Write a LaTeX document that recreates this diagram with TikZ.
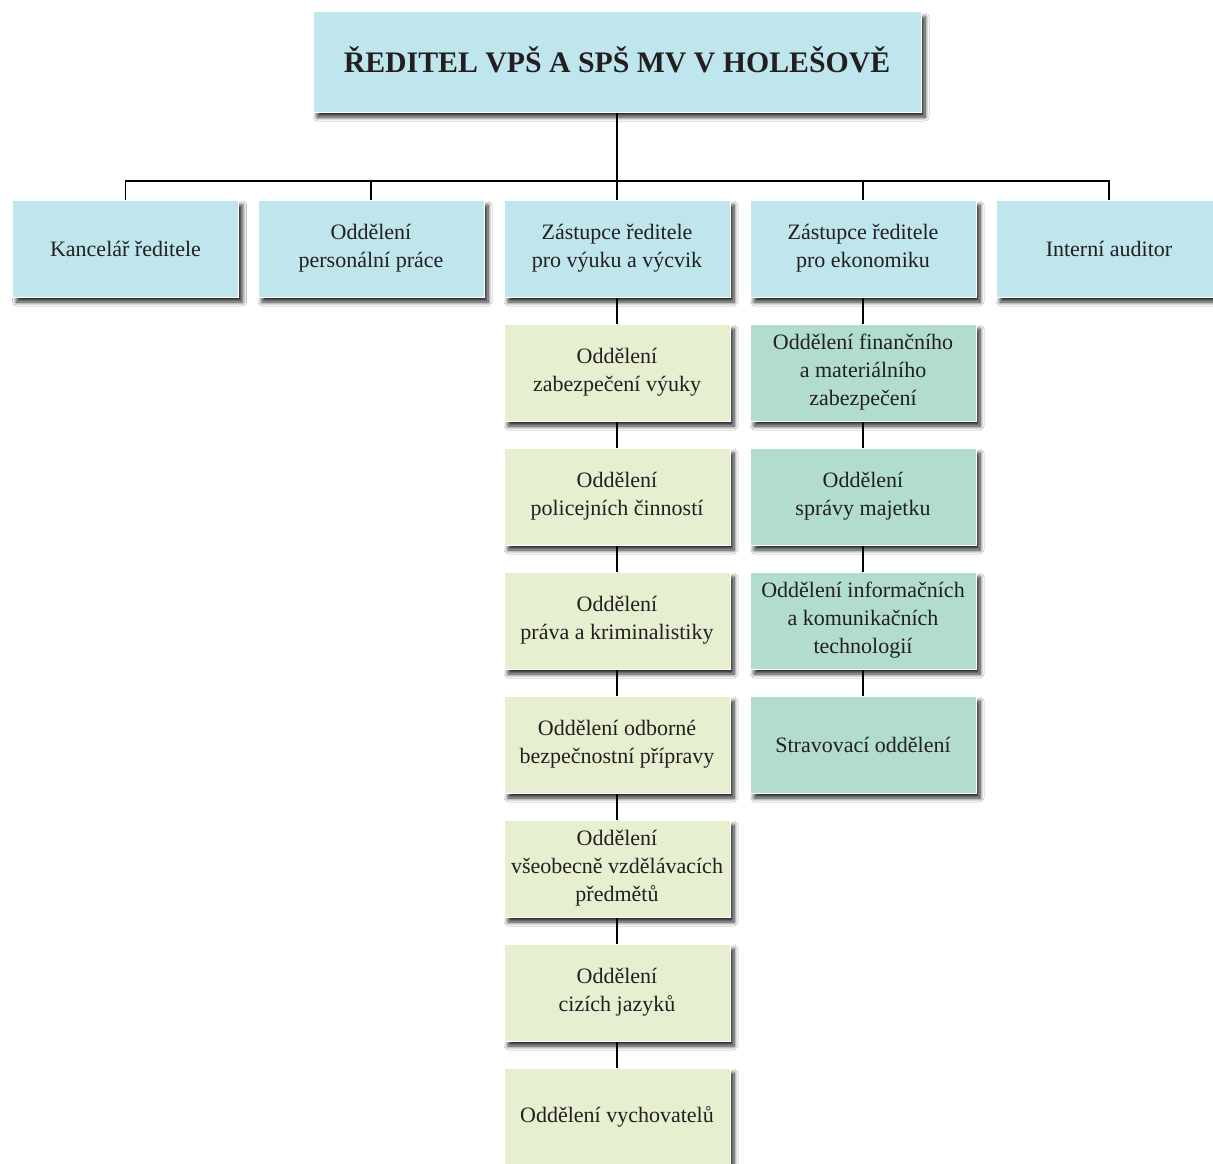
\documentclass[tikz,border=0pt]{standalone}
\usepackage{fontspec}
\setmainfont{Liberation Serif}
\usetikzlibrary{shadows.blur}
\definecolor{cblue}{HTML}{BFE5ED}
\definecolor{cgreen}{HTML}{E6F0D0}
\definecolor{cteal}{HTML}{B2DDCE}
\definecolor{ctext}{HTML}{231F20}
\tikzset{
  box/.style={draw=white, line width=1pt, minimum width=226pt, minimum height=97pt,
    align=center, text=ctext, inner sep=2pt,
    font=\fontsize{22}{28}\selectfont,
    blur shadow={shadow xshift=4pt, shadow yshift=-5pt, shadow blur steps=8, shadow opacity=85, shadow blur radius=4pt}},
  bluebox/.style={box, fill=cblue},
  greenbox/.style={box, fill=cgreen},
  tealbox/.style={box, fill=cteal},
  conn/.style={line width=1.6pt, black}
}
\begin{document}
\begin{tikzpicture}[x=1pt,y=-1pt]
\useasboundingbox (0,0) rectangle (1213,1164);
\fill[white] (0,0) rectangle (1213,1164);
\clip (0,0) rectangle (1213,1164);
% top
\node[bluebox, minimum width=608pt, minimum height=100pt, font=\bfseries\fontsize{29.8}{34}\selectfont] (top) at (617,62) {\raisebox{5pt}{ŘEDITEL VPŠ A SPŠ MV V HOLEŠOVĚ}};
% row 1
\node[bluebox] (k) at (125.5,248.5) {Kancelář ředitele};
\node[bluebox] (p) at (371,248.5) {Oddělení\\personální práce};
\node[bluebox] (v) at (617,248.5) {Zástupce ředitele\\pro výuku a výcvik};
\node[bluebox] (e) at (863,248.5) {Zástupce ředitele\\pro ekonomiku};
\node[bluebox] (a) at (1109,248.5) {Interní auditor};
% middle column
\node[greenbox] (g1) at (617,372.5) {Oddělení\\zabezpečení výuky};
\node[greenbox] (g2) at (617,496.5) {Oddělení\\policejních činností};
\node[greenbox] (g3) at (617,620.5) {Oddělení\\práva a kriminalistiky};
\node[greenbox] (g4) at (617,744.5) {Oddělení odborné\\bezpečnostní přípravy};
\node[greenbox] (g5) at (617,868.5) {Oddělení\\všeobecně vzdělávacích\\předmětů};
\node[greenbox] (g6) at (617,992.5) {Oddělení\\cizích jazyků};
\node[greenbox] (g7) at (617,1116.5) {Oddělení vychovatelů};
% right column
\node[tealbox] (t1) at (863,372.5) {Oddělení finančního\\a materiálního\\zabezpečení};
\node[tealbox] (t2) at (863,496.5) {Oddělení\\správy majetku};
\node[tealbox] (t3) at (863,620.5) {Oddělení informačních\\a komunikačních\\technologií};
\node[tealbox] (t4) at (863,744.5) {Stravovací oddělení};
% connectors
\coordinate (bus) at (617,181);
\draw[conn] (top.south) -- (bus);
\draw[conn] (k.north) -- (k.north |- bus) -- (a.north |- bus) -- (a.north);
\draw[conn] (p.north) -- (p.north |- bus);
\draw[conn] (v.north) -- (bus);
\draw[conn] (e.north) -- (e.north |- bus);
\draw[conn] (v) -- (g1); \draw[conn] (g1) -- (g2); \draw[conn] (g2) -- (g3);
\draw[conn] (g3) -- (g4); \draw[conn] (g4) -- (g5); \draw[conn] (g5) -- (g6);
\draw[conn] (g6) -- (g7);
\draw[conn] (e) -- (t1); \draw[conn] (t1) -- (t2); \draw[conn] (t2) -- (t3); \draw[conn] (t3) -- (t4);
\end{tikzpicture}
\end{document}
